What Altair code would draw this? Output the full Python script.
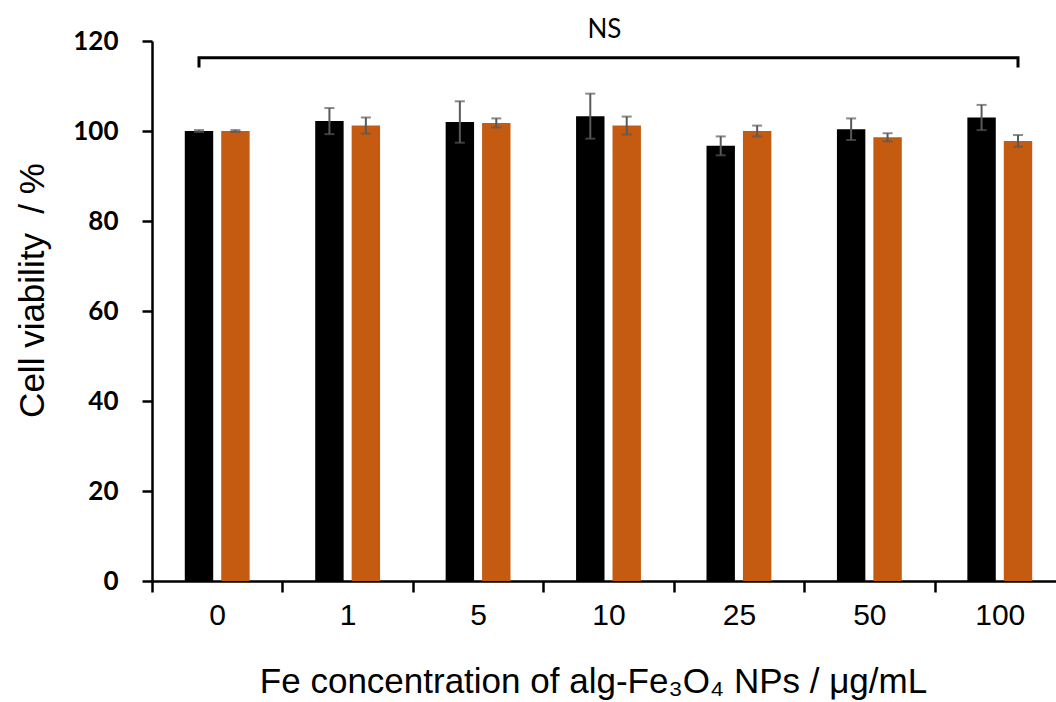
import altair as alt
import pandas as pd

# Fe concentration groups (µg/mL) and the two measured series
concentrations = ["0", "1", "5", "10", "25", "50", "100"]
series_names = ["A", "B"]
viability_a = [100.0, 102.2, 102.0, 103.3, 96.7, 100.4, 103.0]
error_a = [0.2, 2.9, 4.6, 5.0, 2.1, 2.4, 2.8]
viability_b = [100.0, 101.2, 101.8, 101.2, 100.0, 98.6, 97.8]
error_b = [0.2, 1.8, 1.0, 2.0, 1.2, 0.9, 1.3]
series_colors = ["#000000", "#C55A11"]

# significance bracket spanning all groups
bracket_conc = ["0", "0", "100", "100"]
bracket_series = ["A", "A", "B", "B"]
bracket_y = [114.1, 116.3, 116.3, 114.1]
bracket_label = "NS"
bracket_label_conc = "10"
bracket_label_y = 120.7

rows = []
for i, c in enumerate(concentrations):
    for s, vals, errs in (("A", viability_a, error_a), ("B", viability_b, error_b)):
        rows.append({"conc": c, "series": s, "value": vals[i],
                     "lo": vals[i] - errs[i], "hi": vals[i] + errs[i]})
df = pd.DataFrame(rows)

bracket_df = pd.DataFrame({"conc": bracket_conc, "series": bracket_series,
                           "y": bracket_y, "order": list(range(len(bracket_y)))})
label_df = pd.DataFrame({"conc": [bracket_label_conc], "y": [bracket_label_y],
                         "text": [bracket_label]})

x_scale = alt.Scale(domain=concentrations, range=[0, 913], paddingInner=0, paddingOuter=0)
off_scale = alt.Scale(domain=series_names, paddingInner=0.22, paddingOuter=0.9)
y_scale = alt.Scale(domain=[0, 120], nice=False, zero=True)

x_axis = alt.Axis(
    title="Fe concentration of alg-Fe₃O₄ NPs / μg/mL",
    labelAngle=0, tickBand="extent",
    titleX=441, titleY=111, titleBaseline="alphabetic", titleAlign="center",
)
y_axis = alt.Axis(
    title="Cell viability\u00a0\u00a0/ %", values=[0, 20, 40, 60, 80, 100, 120],
    titleAngle=270, titleX=-109, titleY=249,
    titleBaseline="alphabetic", titleAlign="center",
)

color = alt.Color("series:N", scale=alt.Scale(domain=series_names, range=series_colors),
                  legend=None)

bars = alt.Chart(df).mark_bar().encode(
    x=alt.X("conc:N", sort=concentrations, scale=x_scale, axis=x_axis),
    xOffset=alt.XOffset("series:N", sort=series_names, scale=off_scale),
    y=alt.Y("value:Q", scale=y_scale, axis=y_axis),
    color=color,
)

err_rule = alt.Chart(df).mark_rule(color="#595959", strokeWidth=2).encode(
    x=alt.X("conc:N", sort=concentrations),
    xOffset=alt.XOffset("series:N", sort=series_names),
    y="lo:Q", y2="hi:Q",
)
cap_lo = alt.Chart(df).mark_tick(color="#595959", thickness=2, size=10).encode(
    x=alt.X("conc:N", sort=concentrations),
    xOffset=alt.XOffset("series:N", sort=series_names),
    y="lo:Q",
)
cap_hi = alt.Chart(df).mark_tick(color="#595959", thickness=2, size=10).encode(
    x=alt.X("conc:N", sort=concentrations),
    xOffset=alt.XOffset("series:N", sort=series_names),
    y="hi:Q",
)

bracket = alt.Chart(bracket_df).mark_line(color="black", strokeWidth=3).encode(
    x=alt.X("conc:N", sort=concentrations),
    xOffset=alt.XOffset("series:N", sort=series_names),
    y="y:Q",
    order="order:Q",
)
bracket_text = alt.Chart(label_df).mark_text(
    font="Lato", fontSize=26, color="black", baseline="alphabetic", align="center", dx=-4
).encode(
    x=alt.X("conc:N", sort=concentrations),
    y="y:Q",
    text="text:N",
)

chart = alt.layer(bars, err_rule, cap_lo, cap_hi, bracket, bracket_text).properties(
    width=904, height=540,
    autosize=alt.AutoSizeParams(type="none"),
    padding={"left": 152, "top": 41, "right": 0, "bottom": 121},
    background="white",
).configure_view(
    stroke=None
).configure_axis(
    grid=False, domainColor="black", domainWidth=2.5, tickColor="black", tickWidth=2.5,
    labelColor="black", titleColor="black", titleFont="Liberation Sans",
    titleFontSize=35, titleFontWeight="normal",
).configure_axisX(
    labelFont="Liberation Sans", labelFontSize=30, labelFontWeight="normal",
    labelPadding=8, tickSize=11,
).configure_axisY(
    labelFont="Lato", labelFontSize=26, labelFontWeight="bold",
    labelPadding=24, tickSize=10,
)

chart.save("out.html", embed_options={"renderer": "svg", "actions": False})
